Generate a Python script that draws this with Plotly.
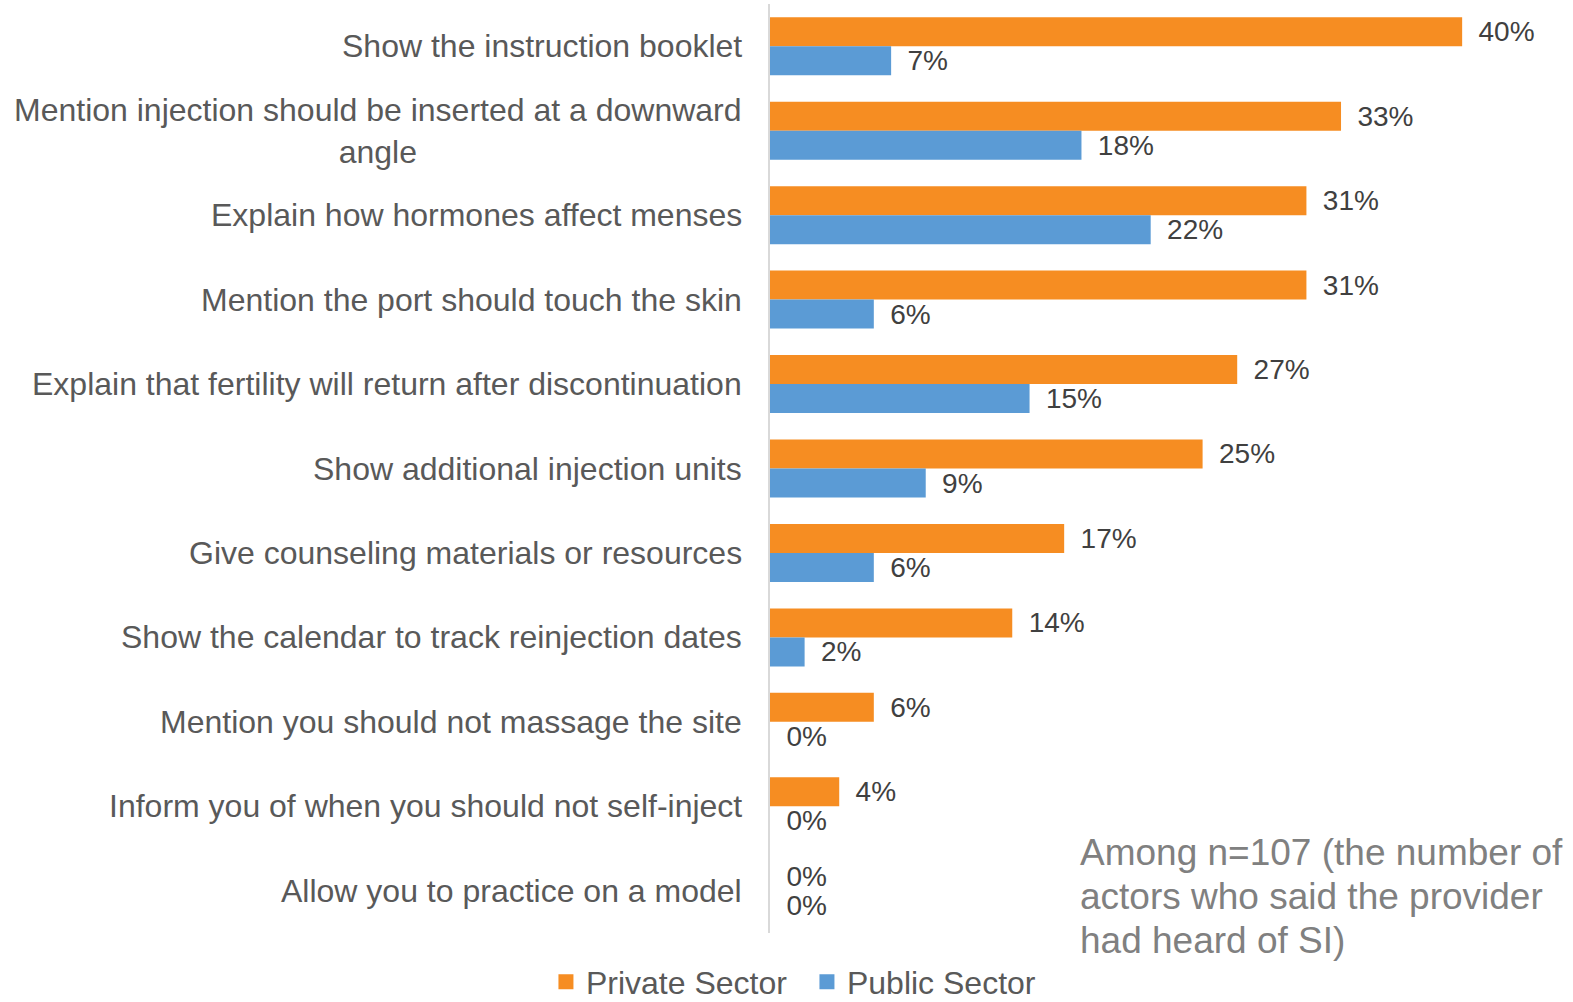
import plotly.graph_objects as go

# Survey items (top to bottom) and the share of actors reporting each, by sector
categories = [
    "Show the instruction booklet",
    "Mention injection should be inserted at a downward<br>angle",
    "Explain how hormones affect menses",
    "Mention the port should touch the skin",
    "Explain that fertility will return after discontinuation",
    "Show additional injection units",
    "Give counseling materials or resources",
    "Show the calendar to track reinjection dates",
    "Mention you should not massage the site",
    "Inform you of when you should not self-inject",
    "Allow you to practice on a model",
]
private_sector = [40, 33, 31, 31, 27, 25, 17, 14, 6, 4, 0]
public_sector = [7, 18, 22, 6, 15, 9, 6, 2, 0, 0, 0]

series_names = ["Private Sector", "Public Sector"]
series_colors = ["#F68D22", "#5B9BD5"]

note_lines = [
    "Among n=107 (the number of",
    "actors who said the provider",
    "had heard of SI)",
]

FONT = "Liberation Sans, Arial, sans-serif"
PAD = "\u00a0\u2009"

fig = go.Figure()
for name, vals, color in zip(series_names, [private_sector, public_sector], series_colors):
    fig.add_trace(go.Bar(
        y=categories,
        x=vals,
        name=name,
        orientation="h",
        marker=dict(color=color, line=dict(width=0)),
        text=[f"{v}%" for v in vals],
        texttemplate=PAD + "%{text}",
        textposition="outside",
        constraintext="none",
        cliponaxis=False,
        textfont=dict(family=FONT, size=28, color="#404040"),
        hoverinfo="skip",
        showlegend=False,
    ))
    # Legend entry with a larger square swatch
    fig.add_trace(go.Scatter(
        x=[None], y=[None], mode="markers", name=name,
        marker=dict(symbol="square", size=15, color=color),
        hoverinfo="skip",
    ))

# Category labels drawn as centred annotations left of the axis
annotations = []
for cat in categories:
    annotations.append(dict(
        x=0, xref="paper", y=cat, yref="y",
        xanchor="right", yanchor="middle", xshift=-26,
        text=cat, align="center", showarrow=False,
        font=dict(family=FONT, size=32, color="#595959"),
    ))

# Sample-size note, one annotation per line for tighter leading
for i, line in enumerate(note_lines):
    annotations.append(dict(
        x=0.3935, xref="paper", y=0.0398, yref="paper",
        xanchor="left", yanchor="middle", align="left",
        yshift=(1 - i) * 44,
        text=line, showarrow=False,
        font=dict(family=FONT, size=37, color="#808080"),
    ))

fig.update_layout(
    width=1573, height=1002,
    margin=dict(l=770, r=20, t=4, b=69),
    paper_bgcolor="white", plot_bgcolor="white",
    barmode="group", bargap=0.313, bargroupgap=0,
    font=dict(family=FONT, color="#595959"),
    xaxis=dict(range=[0, 45.25], showticklabels=False, showgrid=False,
               zeroline=False, showline=False, fixedrange=True),
    yaxis=dict(autorange="reversed", showticklabels=False, showgrid=False,
               zeroline=False, showline=True, linecolor="#D9D9D9",
               linewidth=2, ticks=""),
    legend=dict(orientation="h", xref="container", yref="container",
                x=0.513, y=0.020, xanchor="center", yanchor="middle",
                font=dict(family=FONT, size=32, color="#595959"),
                itemwidth=30, entrywidth=216, traceorder="normal"),
    annotations=annotations,
    showlegend=True,
)

fig.write_html("out.html")
